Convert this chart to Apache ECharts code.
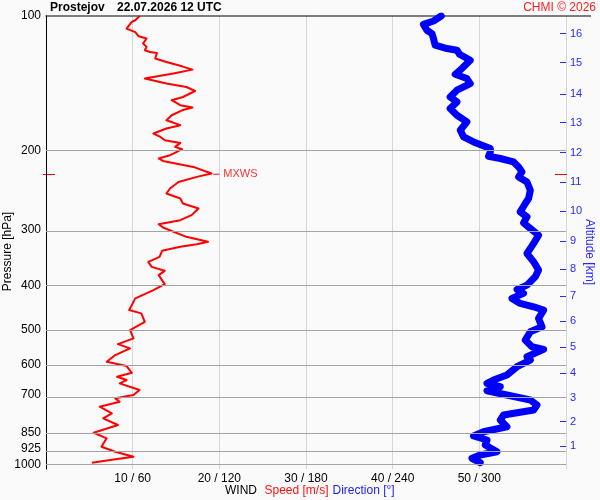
<!DOCTYPE html>
<html><head><meta charset="utf-8">
<script src="https://cdn.jsdelivr.net/npm/echarts@6/dist/echarts.min.js"></script>
<style>html,body{margin:0;padding:0;background:#fafafa}#c{width:600px;height:500px}</style>
</head><body><div id="c"></div>
<script>
// ---- data ----
const speedPres = [100,102.2,103.1,106.7,107.6,108.6,111.0,112.3,115.2,117.2,119.2,120.3,120.9,124.4,126.6,129.5,131.7,134.4,137.9,139.1,141.5,144.0,147.0,151.6,154.1,158.1,160.0,162.3,166.5,170.8,175.2,178.2,182.9,186.1,189.3,191.9,195.9,198.2,202.7,204.4,207.9,210.5,217.1,224.6,225.4,228.5,234.5,242.5,248.8,255.3,261.9,268.7,278.1,285.4,291.3,296.3,310.9,319.0,322.8,327.3,334.1,344.5,353.5,362.7,370.2,378.5,396.4,408.7,426.5,441.5,452.9,460.7,481.0,501.9,523.7,539.3,551.3,570.6,590.6,603.8,624.9,637.9,648.8,659.8,682.9,700.7,712.7,725.2,744.1,769.7,789.7,817.3,850.3,875.1,913.6,937.4,961.7,978.2,991.8];
const speedVals = [10.8,10.3,9.9,9.3,9.5,10.3,10.7,11.6,11.2,11.6,11.4,12.0,12.8,12.6,13.9,15.7,16.9,14.7,11.4,11.6,13.9,16.2,17.2,15.8,14.5,15.5,16.9,15.7,14.5,13.9,15.5,13.9,12.4,13.2,13.7,15.5,14.9,15.7,14.7,14.3,13.0,13.5,17.0,19.1,19.3,17.4,15.3,14.3,13.9,15.5,15.8,17.6,16.8,15.5,13.0,13.5,16.2,18.7,17.4,15.5,13.4,13.1,11.8,12.2,13.7,13.0,13.7,12.4,10.3,9.9,9.6,11.0,11.4,9.7,10.1,8.3,9.7,8.0,7.0,9.3,9.9,8.2,9.3,8.5,10.8,10.1,8.0,8.5,6.2,7.6,6.6,8.3,5.5,7.0,6.4,8.0,10.1,7.4,5.3];
const dirPres = [100,100.5,102.6,104.4,107.6,109.5,112.3,116.2,118.2,119.2,121.7,125.5,131.0,134.9,137.9,141.5,146.4,151.6,155.5,160.9,166.5,172.3,179.8,186.1,190.9,194.2,197.5,201.3,205.5,207.9,211.6,217.1,222.7,228.5,234.5,244.7,255.3,261.9,273.5,280.6,289.4,297.8,308.2,321.6,338.6,353.5,368.9,381.8,398.4,407.3,415.7,426.5,437.6,445.3,452.9,472.7,493.5,506.3,528.3,546.8,554.2,575.6,585.5,605.9,632.3,648.8,659.8,671.5,685.4,700.7,718.9,737.6,756.8,776.4,796.6,824.5,845.9,864.8,882.8,905.7,937.4,953.4,969.7,991.8];
const dirVals = [273.6,272.9,268.3,261.3,263.7,267.2,268.3,269.4,277.6,284.5,286.3,293.7,287.9,283.3,291.4,293.7,284.5,279.8,284.5,279.8,284.5,291.4,286.8,289.1,296.0,301.8,307.6,307.6,306.4,314.5,323.7,327.2,329.5,327.2,333.0,335.3,334.1,331.8,328.3,333.0,330.6,335.3,341.0,337.6,333.0,337.6,341.0,338.7,333.0,326.1,330.6,322.6,328.3,337.6,344.5,341.0,343.4,335.3,331.8,336.4,344.5,333.0,335.3,326.1,319.1,309.8,305.3,314.5,305.3,319.1,335.3,339.9,337.6,316.8,314.5,319.1,302.9,296.0,305.3,304.1,312.2,300.6,294.9,300.6];
const pressureTicks = [100,200,300,400,500,600,700,850,925,1000];
const altKm = [1,2,3,4,5,6,7,8,9,10,11,12,13,14,15,16];
const altPres = [910.5,803.5,710.5,624.9,548.5,479.2,421.0,366.9,317.4,272.9,234.4,201.6,172.8,149.2,127.0,109.4];
const speedTicks = [10,20,30,40,50];
const mxwsPres = 225.4, mxwsSpeed = 19.3;
const presBottom = 1024.5;

// ---- chart ----
const FONT = 'Liberation Sans, Arial, sans-serif';
const L = Math.log10;
const chart = echarts.init(document.getElementById('c'), null, {renderer:'canvas'});
const option = {
  backgroundColor: '#fafafa',
  animation: false,
  grid: {left: 46, right: 34, top: 16, bottom: 31},
  xAxis: {
    type: 'value', min: 0, max: 60, interval: 10,
    axisLine: {show: false}, axisTick: {show: false},
    splitLine: {show: true, lineStyle: {color: '#d6d6d6', width: 1}},
    axisLabel: {
      margin: 4, color: '#000', fontFamily: FONT, fontSize: 12,
      formatter: v => speedTicks.indexOf(v) >= 0 ? v + ' / ' + (v * 6) : ''
    }
  },
  yAxis: [{
    type: 'value', min: 2, max: L(presBottom), inverse: true, position: 'left',
    axisLine: {show: true, lineStyle: {color: '#000', width: 1}},
    axisTick: {show: false},
    splitLine: {show: false},
    axisLabel: {
      customValues: pressureTicks.map(L), margin: 5,
      color: '#000', fontFamily: FONT, fontSize: 12,
      formatter: v => String(Math.round(Math.pow(10, v)))
    }
  }, {
    type: 'value', min: 2, max: L(presBottom), inverse: true, position: 'right',
    axisLine: {show: false},
    axisTick: {show: true, inside: true, length: 6, customValues: altPres.map(L), lineStyle: {color: '#2828ff', width: 1}},
    splitLine: {show: false},
    axisLabel: {
      customValues: altPres.map(L), margin: 4,
      color: '#2828ff', fontFamily: FONT, fontSize: 11,
      formatter: v => {
        for (let i = 0; i < altPres.length; i++) if (Math.abs(L(altPres[i]) - v) < 1e-6) return String(altKm[i]);
        return '';
      }
    }
  }],
  series: [{
    name: 'grid', type: 'line', data: [], z: 1, silent: true,
    markLine: {
      silent: true, symbol: 'none', label: {show: false},
      lineStyle: {color: '#a4a4a4', type: 'solid', width: 1},
      emphasis: {disabled: true},
      data: pressureTicks.slice(1).map(p => ({yAxis: L(p)}))
    }
  }, {
    name: 'Direction', type: 'line', z: 2, showSymbol: false, silent: true,
    data: dirPres.map((p, i) => [dirVals[i] / 6, L(p)]),
    lineStyle: {color: '#0000ff', width: 7, cap: 'round', join: 'round'}
  }, {
    name: 'Speed', type: 'line', z: 3, showSymbol: false, silent: true,
    data: speedPres.map((p, i) => [speedVals[i], L(p)]),
    lineStyle: {color: '#ff0000', width: 2, join: 'round'}
  }, {
    name: 'MXWS', type: 'line', z: 3, silent: true, showSymbol: false,
    data: [[mxwsSpeed, L(mxwsPres)], [mxwsSpeed + 0.7, L(mxwsPres)]],
    lineStyle: {color: '#ff0000', width: 1},
    endLabel: {show: true, formatter: 'MXWS', color: '#ff3030', fontFamily: FONT, fontSize: 11, distance: 4}
  }]
};
chart.setOption(option);

const yM = chart.convertToPixel({yAxisIndex: 0}, L(mxwsPres));
const txt = (x, y, s, o) => Object.assign({type: 'text', x: x, y: y, silent: true,
  style: Object.assign({text: s, fill: '#000', font: '12px ' + FONT, textVerticalAlign: 'middle'}, o || {})});
chart.setOption({
  graphic: [
    {type: 'line', silent: true, shape: {x1: 45.5, y1: 16, x2: 591, y2: 16}, style: {stroke: '#000', lineWidth: 1}},
    {type: 'line', silent: true, shape: {x1: 43, y1: Math.round(yM) + 0.5, x2: 55, y2: Math.round(yM) + 0.5}, style: {stroke: '#ff0000', lineWidth: 1}},
    {type: 'line', silent: true, shape: {x1: 555, y1: Math.round(yM) + 0.5, x2: 567, y2: Math.round(yM) + 0.5}, style: {stroke: '#ff0000', lineWidth: 1}},
    txt(50, 7.5, 'Prostejov', {font: 'bold 12px ' + FONT}),
    txt(117, 7.5, '22.07.2026 12 UTC', {font: 'bold 12px ' + FONT}),
    txt(596, 7.5, 'CHMI © 2026', {fill: '#ff2020', textAlign: 'right'}),
    Object.assign(txt(7.5, 251.5, 'Pressure [hPa]', {textAlign: 'center'}), {rotation: Math.PI / 2}),
    Object.assign(txt(589, 252, 'Altitude [km]', {textAlign: 'center', fill: '#2828ff'}), {rotation: -Math.PI / 2}),
    txt(225, 490.5, 'WIND'),
    txt(264.5, 490.5, 'Speed [m/s]', {fill: '#ff1010'}),
    txt(332.5, 490.5, 'Direction [°]', {fill: '#2020ff'})
  ]
});
</script>
</body></html>
